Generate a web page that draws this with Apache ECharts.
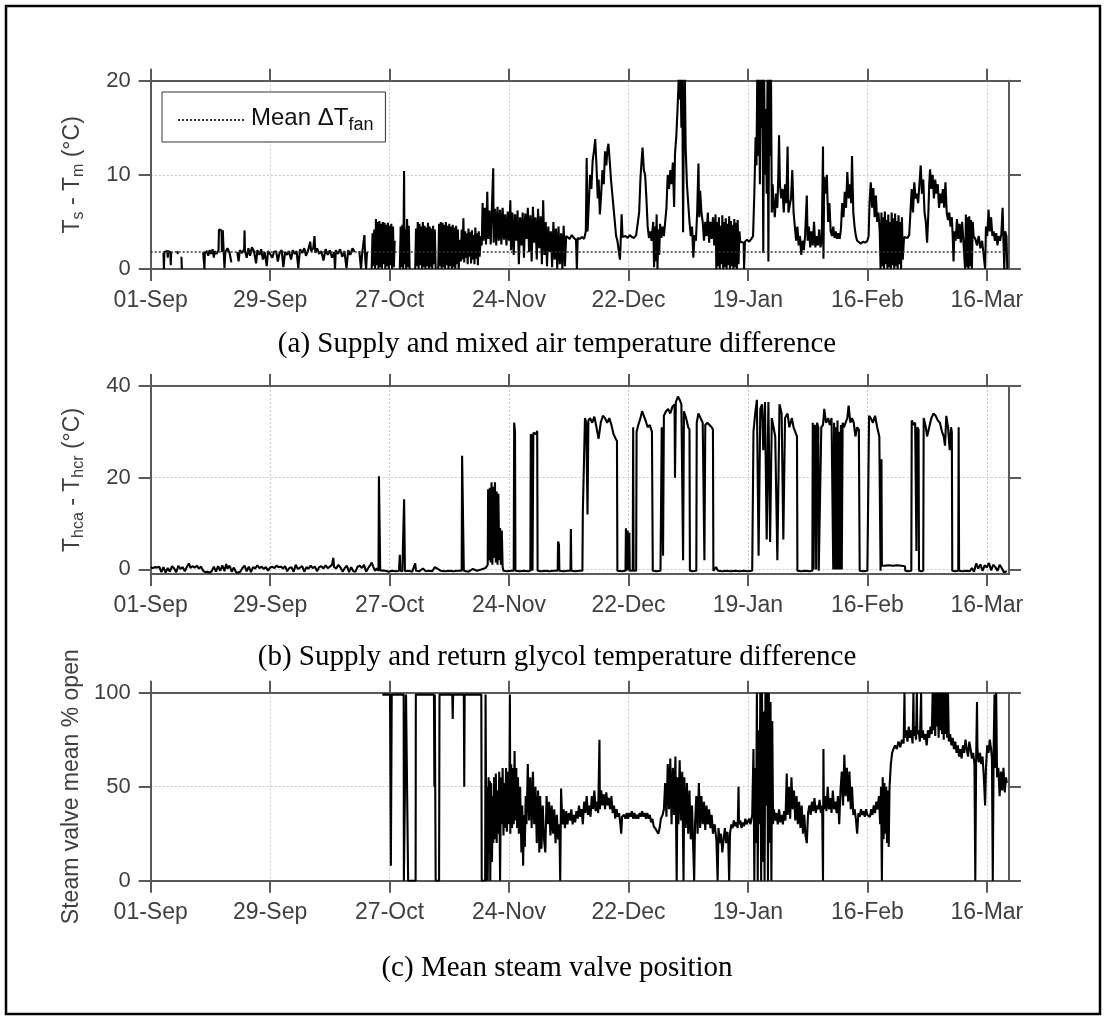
<!DOCTYPE html>
<html><head><meta charset="utf-8">
<script src="https://cdn.jsdelivr.net/npm/echarts@6/dist/echarts.min.js"></script>
<style>html,body{margin:0;padding:0;background:#fff}#c{width:1107px;height:1024px}</style>
</head><body><div id="c"></div>
<script>
// ---------- axis ticks ----------
const tickDays = [0, 28, 56, 84, 112, 140, 168, 196];
const tickLabels = ['01-Sep', '29-Sep', '27-Oct', '24-Nov', '22-Dec', '19-Jan', '16-Feb', '16-Mar'];
const dayMax = 201.2;
const yTicksA = [0, 10, 20];
const yTicksB = [0, 20, 40];
const yTicksC = [0, 50, 100];
const meanDTfan = 1.8;

// ---------- (a) Ts - Tm  [day since 01-Sep, degC] ----------
const tsTm = [
[3.0,1.7],[3.1,0],[3.2,1.8],[3.6,2.0],[3.9,1.9],[4.0,1.2],[4.1,1.9],[4.6,1.8],[4.7,0.4],[4.8,1.7],[5.0,1.8],[5.1,null],
[6.2,1.9],[6.4,1.6],[6.5,null],[7.2,1.3],[7.3,0],[7.4,null],
[12.3,1.8],[12.5,1.6],[12.6,0],[12.7,1.7],[13.2,1.9],[13.5,1.4],[13.8,2.0],[14.2,1.6],[14.5,2.1],[14.8,1.2],[15.0,1.9],[15.4,1.6],[15.9,2.0],[16.0,4.2],[16.6,4.1],[16.7,1.8],[16.9,4.1],[17.1,1.9],[17.3,0.1],[17.5,1.8],[18.0,2.2],[18.5,1.7],[18.9,0.7],[19.2,null],
[20.3,1.8],[20.6,0.8],[20.9,2.0],[21.4,1.7],[21.9,2.1],[22.0,4.1],[22.1,1.9],[22.5,1.2],[22.9,2.2],[23.3,1.4],[23.7,2.3],[24.2,1.9],[24.7,0.6],[25.0,2.0],[25.5,1.5],[25.9,2.1],[26.3,1.0],[26.7,1.8],[27.2,0.3],[27.5,1.9],[28.0,1.6],[28.5,1.2],[28.9,1.8],[29.4,1.9],[29.8,0.8],[30.2,1.7],[30.7,2.0],[31.1,0.2],[31.5,1.8],[32.0,1.5],[32.4,1.9],[32.9,1.0],[33.3,2.0],[33.8,1.6],[34.2,1.9],[34.6,0.1],[35.0,2.1],[35.5,1.7],[36.0,2.2],[36.4,1.4],[36.9,2.0],[37.4,2.9],[37.6,1.9],[38.1,2.2],[38.4,3.5],[38.6,1.7],[39.0,2.2],[39.5,1.6],[40.0,1.9],[40.5,0.9],[41.0,2.1],[41.5,1.5],[42.0,2.0],[42.5,1.2],[43.0,1.8],[43.2,0],[43.4,2.0],[43.9,1.6],[44.4,2.1],[44.9,1.3],[45.4,1.9],[45.9,0.1],[46.3,2.0],[46.8,1.5],[47.3,2.2],[47.8,1.8],[48.2,null],
[48.9,1.9],[49.3,0],[49.6,1.8],[50.1,3.6],[50.3,1.0],[50.5,0],[50.7,1.8],[51.2,null],
[51.8,0],[52.0,3.8],[52.2,0.3],[52.4,4.2],[52.6,0],[52.8,5.3],[53.0,0.4],[53.2,5.0],[53.4,0],[53.6,5.1],[53.8,0.2],[54.0,4.8],[54.2,0],[54.4,5.0],[54.6,0.5],[54.8,4.9],[55.0,0],[55.2,4.7],[55.4,0.3],[55.6,4.9],[55.8,0],[56.0,4.6],[56.2,0.4],[56.4,4.8],[56.6,0],[56.8,4.5],[57.0,0.2],[57.2,3.0],[57.3,null],
[58.4,0],[58.6,4.5],[58.8,0.2],[59.0,4.7],[59.2,0],[59.4,10.4],[59.5,0.5],[59.7,4.2],[59.9,0],[60.1,5.3],[60.3,0.2],[60.5,4.6],[60.7,0],[60.8,null],
[62.0,0],[62.2,4.3],[62.4,0.3],[62.6,5.0],[62.8,0],[63.0,4.8],[63.2,0.4],[63.4,4.5],[63.6,0],[63.8,5.0],[64.0,0.2],[64.2,4.6],[64.4,0],[64.6,4.4],[64.8,0.3],[65.0,4.9],[65.2,0],[65.4,4.5],[65.6,0.2],[65.8,4.3],[66.0,0],[66.2,4.6],[66.4,0.5],[66.6,4.2],[66.8,0],[67.0,null],
[67.4,0],[67.6,4.8],[67.8,0.3],[68.0,5.0],[68.2,0],[68.4,4.9],[68.6,0.2],[68.8,4.7],[69.0,0],[69.2,5.0],[69.4,0.4],[69.6,4.6],[69.8,0],[70.0,4.8],[70.2,0.3],[70.4,4.5],[70.6,0],[70.8,4.7],[71.0,0.2],[71.2,4.4],[71.4,0],[71.6,4.6],[71.8,0.5],[72.0,4.2],[72.2,0],[72.5,3.1],
[72.7,0.8],[72.9,4.2],[73.1,1.0],[73.3,5.4],[73.5,0.7],[73.7,4.0],[73.9,1.2],[74.1,3.8],[74.3,0.5],[74.5,4.3],[74.7,1.3],[74.9,3.9],[75.1,0.6],[75.3,4.1],[75.5,1.0],[75.7,3.6],[75.9,0.5],[76.1,4.4],[76.3,1.1],[76.5,3.8],[76.7,0.4],[76.9,4.0],[77.1,1.3],[77.4,3.5],[77.6,2.5],
[77.8,7.0],[78.0,3.0],[78.3,6.5],[78.6,2.6],[78.9,8.2],[79.1,3.2],[79.4,6.2],[79.7,2.6],[80.0,6.8],[80.3,10.7],[80.4,2.8],[80.7,6.4],[81.0,2.5],[81.3,6.6],[81.6,3.0],[81.9,6.3],[82.2,2.6],[82.5,6.5],[82.8,3.1],[83.1,5.8],[83.4,2.5],[83.7,6.1],[84.0,3.0],
[84.3,7.3],[84.5,2.0],[84.8,6.0],[85.1,1.5],[85.4,5.8],[85.7,3.0],[86.0,6.2],[86.3,0.5],[86.6,5.5],[86.9,2.5],[87.2,6.0],[87.5,1.2],[87.8,5.9],[88.1,3.2],[88.4,6.5],[88.7,1.8],[89.0,5.7],[89.3,0.8],[89.6,6.6],[89.9,2.8],[90.2,5.5],[90.5,1.0],[90.8,6.4],[91.1,2.2],[91.4,5.6],[91.7,0.5],[92.0,7.3],[92.3,1.5],[92.6,5.0],[92.9,0.3],[93.2,4.5],[93.5,1.8],[93.8,4.0],[94.1,0.2],[94.4,5.0],[94.7,1.0],[95.0,4.3],[95.3,0],[95.6,4.5],[95.9,0.5],[96.2,3.8],[96.5,0],[96.8,4.6],[97.1,0.3],[97.4,3.5],
[97.7,3.4],[98.2,3.2],[98.7,3.6],[99.2,3.3],[99.7,3.1],[99.9,0],[100.1,3.3],[100.6,3.2],[101.1,3.4],[101.6,3.2],[102.0,4.0],
[102.2,11.8],[102.4,4.0],[102.7,7.0],[103.0,10.0],[103.3,8.5],[103.6,11.5],[103.9,12.5],[104.2,13.8],[104.5,11.0],[104.8,7.5],[105.0,9.5],[105.3,5.8],[105.6,8.0],[105.9,10.5],[106.2,9.0],[106.5,12.5],[106.8,11.0],[107.1,12.8],[107.3,13.3],[107.6,11.5],[107.9,9.5],[108.2,8.0],[108.5,6.5],[108.8,5.0],[109.1,3.5],[109.4,3.0],[109.7,2.8],[110.0,1.0],[110.2,3.2],[110.4,5.8],[110.6,3.4],[110.8,3.3],
[111.3,3.5],[111.8,3.3],[112.3,3.6],[112.8,3.4],[113.3,3.3],[113.8,3.6],[114.2,3.5],
[114.5,6.0],[114.8,9.5],[115.0,11.0],[115.3,12.9],[115.6,10.5],[115.9,10.0],[116.2,7.5],[116.5,4.5],[116.8,3.3],[117.1,4.0],[117.4,3.0],
[117.8,5.0],[118.0,0.2],[118.2,4.5],[118.4,0.8],[118.6,5.8],[118.8,0],[119.0,4.2],[119.2,1.5],[119.4,4.8],
[119.7,3.3],[120.0,4.5],[120.3,3.5],[120.6,5.0],[120.9,6.5],[121.2,10.0],[121.5,8.5],[121.8,10.5],[122.1,9.0],[122.4,11.3],[122.7,6.6],[122.9,12.2],[123.2,14.0],[123.5,17.0],[123.8,20.5],[124.0,18.0],[124.2,21],[124.4,15.0],[124.6,21],[124.8,3.9],[125.0,17.0],[125.2,21],[125.4,13.0],[125.7,9.0],[126.0,7.0],[126.3,5.0],[126.6,3.5],[126.9,4.5],[127.2,1.2],[127.5,3.6],[127.8,3.0],
[128.1,6.0],[128.4,11.2],[128.6,5.5],[128.8,8.3],[129.1,6.0],[129.4,5.0],[129.7,3.0],[130.0,5.0],[130.3,3.5],[130.6,6.0],[130.9,2.8],[131.2,5.0],[131.5,3.2],[131.8,5.5],[132.1,2.5],
[132.4,5.8],[132.6,0],[132.8,5.0],[133.0,0.3],[133.2,5.5],[133.4,0],[133.6,4.6],[133.8,0.5],[134.0,5.7],[134.2,0],[134.4,5.0],[134.6,0.2],[134.8,5.4],[135.0,0],[135.2,4.8],[135.4,0.4],[135.6,5.6],[135.8,0],[136.0,5.1],[136.2,0.3],[136.4,4.7],[136.6,0],[136.8,5.3],[137.0,0.2],[137.2,4.9],[137.4,0],[137.6,5.2],[137.8,0.5],[138.0,4.0],
[138.2,2.9],[138.6,3.1],[139.0,2.8],[139.1,0],[139.3,2.9],[139.8,3.1],[140.3,2.9],[140.8,3.2],[141.2,3.5],
[141.5,8.0],[141.8,14.0],[142.0,11.0],[142.2,21],[142.4,12.0],[142.6,21],[142.8,9.0],[143.0,21],[143.2,15.0],[143.4,21],[143.6,1.7],[143.8,21],[144.0,10.0],[144.2,17.0],[144.4,8.0],[144.6,21],[144.8,0.8],[145.0,21],[145.2,12.0],[145.4,21],[145.6,6.0],[145.8,9.0],
[146.0,7.2],[146.3,5.5],[146.6,8.0],[146.9,6.5],[147.1,9.5],[147.3,14.2],[147.5,9.0],[147.8,7.5],[148.1,8.5],[148.4,6.0],[148.7,9.0],[149.0,7.0],[149.3,13.0],[149.5,6.0],[149.8,5.8],[150.1,7.5],[150.4,10.5],[150.7,6.0],[151.0,4.5],[151.3,3.0],[151.6,4.5],[151.9,2.5],[152.2,3.5],[152.5,1.5],[152.8,3.0],[153.1,2.0],[153.4,3.5],
[153.8,7.8],[154.0,3.0],[154.3,4.5],[154.6,2.3],[154.9,4.0],[155.2,2.5],[155.5,5.0],[155.8,2.3],[156.1,3.5],[156.4,2.5],[156.7,4.2],[157.0,2.3],[157.3,3.0],
[157.6,13.0],[157.7,1.1],[157.9,9.8],[158.2,8.0],[158.5,10.0],[158.8,5.0],[159.1,7.0],[159.4,4.0],[159.7,3.5],[160.0,4.5],[160.3,3.3],[160.6,4.0],[160.9,3.2],[161.2,3.8],[161.5,3.2],[161.8,4.2],
[162.1,7.0],[162.4,5.5],[162.7,8.2],[163.0,6.5],[163.3,10.3],[163.6,7.5],[163.9,9.0],[164.2,7.0],[164.4,12.0],[164.7,6.0],[165.0,4.5],[165.3,3.5],[165.6,3.0],
[166.0,2.8],[166.5,2.7],[167.0,2.9],[167.5,2.8],[168.0,3.0],[168.3,3.5],
[168.5,7.0],[168.8,9.2],[169.1,6.5],[169.4,8.6],[169.7,5.5],[170.0,7.8],[170.3,5.0],[170.6,6.0],[170.9,4.0],
[171.1,0],[171.3,6.0],[171.5,0.3],[171.7,5.5],[171.9,0],[172.1,6.1],[172.3,0.5],[172.5,5.2],[172.7,0],[172.9,5.8],[173.1,0.2],[173.3,5.0],[173.5,0],[173.7,6.0],[173.9,0.4],[174.1,5.4],[174.3,0],[174.5,5.9],[174.7,0.3],[174.9,5.1],[175.1,0],[175.3,5.7],[175.5,0.5],[175.7,5.0],[175.9,0],[176.1,5.5],[176.3,1.0],
[176.6,3.4],[177.0,3.5],[177.4,3.3],[177.8,3.6],[178.1,3.4],
[178.4,8.5],[178.7,6.0],[179.0,9.2],[179.3,7.5],[179.6,8.0],[179.9,7.0],[180.2,9.0],[180.5,11.0],[180.8,8.0],[181.1,9.5],[181.4,6.0],[181.7,5.0],[182.0,2.8],[182.3,6.0],[182.5,9.0],[182.7,10.6],[183.0,8.5],[183.3,10.0],[183.6,7.5],[183.9,9.5],[184.2,8.0],[184.5,9.0],[184.8,6.5],[185.1,8.0],[185.4,7.0],[185.7,8.5],[186.0,6.5],[186.3,9.2],[186.6,6.0],[186.9,5.2],[187.2,6.0],[187.5,4.5],[187.8,5.5],[188.0,3.5],[188.2,0.8],[188.4,4.0],[188.7,3.0],[189.0,5.3],[189.3,3.2],[189.6,4.8],[189.9,2.8],[190.2,5.0],[190.5,3.0],
[190.9,0],[191.1,5.8],[191.3,0.2],[191.5,5.5],[191.7,0],[191.9,5.6],[192.1,0.3],[192.3,5.2],[192.5,0],[192.7,5.0],[192.9,3.5],
[193.3,3.2],[193.7,2.5],[194.1,3.5],[194.5,2.2],[194.9,3.0],[195.3,2.8],[195.6,0],[195.8,4.5],[196.1,3.5],[196.4,6.3],[196.7,4.0],[197.0,5.5],[197.3,3.5],[197.6,4.0],[197.9,3.0],[198.2,3.8],[198.5,2.5],[198.8,3.5],[199.1,3.0],[199.4,3.7],[199.7,6.5],[199.9,3.0],[200.1,0],[200.3,4.0],[200.6,3.5],[200.8,0]
];

// ---------- (b) Thca - Thcr [day, degC] ----------
const thcaThcr = [
[0,0.4],[0.5,0.3],[1.0,0.5],[1.5,0.4],[2.0,0.6],[2.5,-0.6],[3.0,0.5],[3.5,-0.7],[4.0,0.3],[4.5,-0.5],[5.0,0.7],[5.5,0.2],[6.0,-0.6],[6.5,0.8],[7.0,0.1],[7.5,0.5],[8.0,-0.4],[8.5,0.6],[9.0,1.3],[9.3,0.3],[9.8,0.7],[10.3,0.4],[10.8,0.8],[11.3,0.2],[11.8,0.6],[12.3,-0.3],[12.8,-0.6],[13.3,-0.5],[13.8,-0.7],[14.3,-0.4],[14.8,0.6],[15.3,-0.5],[15.8,0.7],[16.3,-0.3],[16.8,0.9],[17.3,-0.4],[17.7,1.2],[18.0,0.2],[18.5,0.8],[19.0,-0.5],[19.5,0.4],[20.0,-0.6],[20.5,-0.7],[21.0,-0.5],[21.5,0.3],[22.0,0.8],[22.5,-0.4],[23.0,0.6],[23.5,-0.6],[24.0,0.5],[24.5,0.2],[25.0,0.9],[25.5,0.3],[26.0,0.6],[26.5,0.1],[27.0,0.5],[27.5,-0.3],[28.0,0.4],[28.5,0.6],[29.0,0.3],[29.5,0.8],[30.0,0.5],[30.5,0.6],[31.0,0.2],[31.5,0.7],[32.0,-0.4],[32.5,0.3],[33.0,0.5],[33.5,-0.5],[34.0,1.0],[34.5,0.1],[35.0,0.4],[35.5,0.7],[36.0,-0.5],[36.5,0.5],[37.0,0.2],[37.5,0.8],[38.0,0.3],[38.5,0.6],[39.0,-0.4],[39.5,0.5],[40.0,0.7],[40.5,0.2],[41.0,0.9],[41.5,0.3],[42.0,0.6],[42.5,1.0],[42.8,2.5],[43.0,0.5],[43.5,0.2],[44.0,1.0],[44.5,0.4],[45.0,-0.5],[45.5,0.3],[46.0,0.8],[46.5,-0.6],[47.0,0.5],[47.5,-0.4],[48.0,-0.5],[48.5,0.6],[49.0,0.8],[49.5,0.3],[50.0,1.0],[50.5,-0.5],[51.0,0.3],[51.5,1.0],[51.8,1.5],[52.2,0.5],[52.6,-0.3],[53.0,0.2],[53.4,-0.3],[53.5,20.3],[53.7,20.0],[53.8,-0.2],
[54.2,-0.4],[55.0,-0.3],[55.8,-0.5],[56.6,-0.3],[57.4,-0.4],[58.2,-0.3],[58.4,3.2],[58.5,-0.3],[59.0,-0.4],[59.4,15.3],[59.55,15.0],[59.6,-0.4],[60.5,-0.3],[61.3,-0.5],[62.0,1.3],[62.2,-0.3],[63.0,-0.4],[63.8,0.2],[64.5,-0.4],[65.3,-0.3],[66.0,-0.4],[66.6,0.5],[67.2,0.2],[68.0,-0.3],[69.0,-0.4],[70.0,-0.3],[71.0,-0.4],[72.0,-0.3],[72.9,-0.3],[73.0,24.8],[73.3,24.5],[73.4,-0.3],[74.5,-0.5],[75.5,0.1],[76.5,-0.3],[77.5,0],[78.5,0.3],
[79.0,1.0],[79.1,17.5],[79.3,2.0],[79.5,17.8],[79.7,1.5],[79.9,19.0],[80.1,1.0],[80.3,18.0],[80.5,2.5],[80.7,19.0],[80.9,1.5],[81.1,17.0],[81.3,1.0],[81.5,16.5],[81.7,2.0],[81.9,9.0],[82.1,1.0],[82.3,8.5],[82.5,0.5],[82.7,-0.3],
[83.5,-0.4],[84.5,-0.3],[85.1,-0.3],[85.2,32.0],[85.4,30.0],[85.5,-0.3],[86.5,-0.4],[87.5,-0.3],[88.5,-0.4],[89.0,-0.3],[89.1,29.5],[89.3,29.0],[89.5,-0.3],[89.7,29.8],[90.0,30.0],[90.3,29.5],[90.6,30.2],[90.7,-0.3],[91.5,-0.4],[92.5,-0.3],[93.5,-0.4],[94.5,-0.3],[95.4,-0.3],[95.5,6.1],[95.7,5.5],[95.8,-0.3],[96.8,-0.4],[97.8,-0.3],[98.4,-0.3],[98.5,8.8],[98.6,-0.3],[99.5,-0.4],[100.5,-0.3],[101.2,-0.3],
[101.3,12.5],[101.6,12.5],[101.8,33.0],[102.1,32.0],[102.4,12.0],[102.6,32.5],[103.0,33.0],[103.5,32.0],[104.0,33.3],[104.5,31.0],[105.0,28.5],[105.5,32.0],[106.0,33.5],[106.5,33.0],[107.0,32.0],[107.5,33.0],[108.0,31.5],[108.5,29.5],[109.0,28.5],[109.3,28.0],[109.4,-0.3],
[110.5,-0.4],[111.3,-0.3],[111.4,9.0],[111.5,-0.3],[111.8,8.5],[111.9,-0.2],[112.2,8.0],[112.3,-0.3],[113.0,-0.3],[113.1,31.0],[113.2,-0.3],[113.8,-0.3],[113.9,30.0],[114.3,31.5],[114.8,33.0],[115.2,34.5],[115.6,33.5],[116.0,32.5],[116.5,31.0],[117.0,31.5],[117.5,30.0],[117.7,-0.3],
[118.5,-0.4],[119.5,-0.3],[119.7,-0.3],[119.8,31.0],[120.1,3.0],[120.3,33.5],[120.8,34.5],[121.3,35.0],[121.8,34.0],[122.3,35.5],[122.8,36.0],[122.9,20.0],[123.1,36.5],[123.6,37.7],[124.0,37.0],[124.4,36.0],[124.8,2.0],[125.0,34.5],[125.5,33.0],[126.0,31.0],[126.3,30.5],[126.4,-0.3],
[127.0,-0.4],[127.9,-0.3],[128.0,32.0],[128.4,34.0],[128.9,33.0],[129.4,32.0],[129.8,2.0],[130.0,31.5],[130.5,32.0],[131.0,31.5],[131.5,31.0],[131.8,30.5],[131.9,-0.3],
[132.5,0.5],[133.0,-0.3],[134.0,-0.4],[135.0,-0.3],[136.0,-0.4],[137.0,-0.3],[138.0,-0.4],[139.0,-0.3],[140.0,-0.4],[141.0,-0.3],
[141.3,30.0],[141.7,34.0],[142.1,37.0],[142.5,3.0],[142.9,35.0],[143.3,36.0],[143.6,26.0],[144.0,36.5],[144.4,6.5],[144.8,36.5],[145.2,6.0],[145.6,33.0],[146.0,31.0],[146.4,29.0],[146.9,2.0],[147.4,36.0],[147.9,34.0],[148.3,6.5],[148.7,33.0],[149.3,34.0],[149.7,31.0],[150.3,33.0],[150.7,31.0],[151.1,31.0],[151.5,29.0],[151.6,-0.3],
[152.5,-0.4],[153.5,-0.3],[154.5,-0.4],[155.1,-0.3],[155.2,32.0],[155.4,0],[155.6,31.5],[155.8,31.0],[156.0,0],[156.2,32.0],[156.5,31.0],[156.6,-0.3],[157.0,-0.3],[157.2,31.0],[157.6,31.5],[157.9,35.0],[158.3,32.0],[158.8,33.0],[159.2,31.5],[159.6,33.0],[160.0,0],[160.2,32.0],[160.4,0],[160.6,31.0],[160.8,0],[161.0,32.5],[161.2,0],[161.4,30.0],[161.6,0],[161.8,31.5],[162.0,0],[162.2,32.0],[162.5,31.0],[162.9,32.0],[163.3,33.0],[163.6,35.7],[164.0,32.0],[164.4,33.0],[164.8,32.0],[165.2,29.0],[165.6,31.0],[166.0,30.5],[166.2,-0.3],
[167.0,-0.4],[168.0,-0.3],[168.3,-0.3],[168.4,33.5],[168.8,33.0],[169.3,32.0],[169.8,33.5],[170.3,31.0],[170.8,29.0],[171.0,29.0],[171.1,-0.3],[171.3,24.0],[171.4,0.8],[172.0,0.8],[173.0,0.9],[174.0,0.8],[175.0,0.9],[176.0,0.8],[176.8,0.7],[176.9,-0.3],
[177.5,-0.4],[178.3,-0.3],[178.4,32.5],[178.8,31.5],[179.2,32.0],[179.5,4.0],[179.7,31.0],[180.0,30.5],[180.1,-0.3],[180.6,-0.4],[181.1,-0.3],[181.2,33.0],[181.7,31.0],[182.0,29.0],[182.5,31.0],[183.0,33.0],[183.5,34.0],[184.0,33.5],[184.5,32.5],[185.0,32.0],[185.5,30.0],[185.9,29.0],[186.2,27.0],[186.5,33.5],[186.9,31.0],[187.3,26.0],[187.6,31.0],[187.8,30.0],[187.9,-0.3],
[188.6,-0.4],[189.3,-0.3],[189.4,31.0],[189.5,-0.3],[190.3,-0.4],[191.2,-0.3],[192.0,-0.4],[192.5,0.3],[193.0,-0.5],[193.5,1.3],[194.0,0.2],[194.5,1.1],[195.0,-0.3],[195.5,0.9],[196.0,0.4],[196.5,1.4],[197.0,-0.2],[197.5,1.0],[198.0,0.5],[198.5,-0.3],[199.0,1.0],[199.5,0.3],[200.0,-0.6],[200.7,-0.4]
];

// ---------- (c) Steam valve mean % open [day, %] ----------
const steamValve = [
[54.3,99],[54.6,99],[55.5,99],[56.1,99],[56.3,8],[56.5,99],[57.5,99],[58.5,99],[59.3,99],[59.35,0],[59.8,0],[59.85,99],[60.3,99],[60.35,0],[61.5,0],[62.1,0],[62.15,99],[63.5,99],[65.0,99],[66.4,99],[66.5,50],[66.6,99],[66.8,0],[67.6,0],[67.7,99],[69.0,99],[70.7,99],[70.8,86],[70.9,99],[72.5,99],[73.4,99],[73.5,50],[73.6,99],[75.0,99],[76.5,99],[77.5,99],[77.6,0],[78.4,0],[78.5,99],[78.7,0],
[78.9,50],[79.0,0],[79.2,55],[79.3,15],[79.5,53],[79.6,0],[79.8,52],[80.0,10],[80.2,45],[80.3,20],
[80.5,55],[80.7,22],[80.9,57],[81.1,20],[81.3,48],[81.5,25],[81.7,58],[81.9,0],[82.1,55],[82.3,30],[82.5,60],[82.7,24],[82.9,52],[83.1,28],[83.3,60],[83.5,26],[83.7,58],[83.9,30],[84.1,55],[84.2,99],[84.3,25],[84.5,62],[84.7,28],[84.9,60],[85.1,30],[85.3,69],[85.5,32],[85.7,60],[85.9,28],[86.1,55],[86.3,25],[86.6,50],[86.9,15],[87.1,40],[87.3,8],[87.5,35],[87.7,18],[87.9,45],[88.1,30],[88.4,62],[88.7,32],[89.0,55],[89.3,28],[89.6,58],[89.9,30],[90.2,50],[90.5,20],[90.8,48],[91.1,15],[91.3,45],[91.6,17],[91.9,40],[92.2,22],[92.5,15],[92.8,45],[93.1,30],[93.4,42],[93.7,24],[94.0,40],[94.3,25],[94.6,38],[94.9,20],[95.2,35],[95.5,22],[95.8,30],
[96.0,0],[96.2,49],[96.5,30],[96.8,38],[97.1,28],[97.4,37],[97.7,30],[98.0,36],[98.3,32],[98.6,38],[98.9,30],[99.2,35],[99.5,31],[99.8,37],[100.1,33],[100.4,40],[100.7,34],[101.0,38],[101.3,30],[101.6,42],[101.9,36],[102.2,45],[102.5,35],[102.8,40],[103.1,34],[103.4,45],[103.7,38],[104.0,48],[104.3,37],[104.6,42],[104.9,36],[105.2,75],[105.3,38],[105.6,48],[105.9,40],[106.2,46],[106.5,38],[106.8,47],[107.1,40],[107.4,44],[107.7,38],[108.0,45],[108.3,36],[108.6,40],[108.9,33],[109.2,38],[109.5,34],[109.8,36],[110.1,30],[110.3,25],[110.5,34],
[111.0,35],[111.3,33],[111.6,36],[111.9,33],[112.2,36],[112.5,34],[112.8,37],[113.1,33],[113.4,36],[113.7,33],[114.0,35],[114.3,33],[114.6,36],[114.9,34],[115.2,37],[115.5,34],[115.8,36],[116.1,33],[116.4,36],[116.7,33],[117.0,35],[117.3,31],[117.6,33],[117.9,29],[118.2,30],[118.5,27],[118.8,28],[119.0,25],[119.3,28],[119.6,33],[120.0,35],
[120.3,38],[120.6,52],[120.9,34],[121.2,62],[121.5,38],[121.8,65],[122.1,30],[122.4,60],[122.7,35],[123.0,66],[123.3,0],[123.5,55],[123.7,30],[124.0,64],[124.3,32],[124.6,58],[124.9,0],[125.1,55],[125.4,28],[125.7,52],[126.0,25],[126.3,48],[126.6,22],[126.9,40],[127.2,15],[127.4,0],[127.6,30],[127.9,45],[128.2,25],[128.5,52],[128.8,28],[129.1,45],[129.4,30],[129.7,42],[130.0,27],[130.3,40],[130.6,30],[130.9,38],[131.2,28],[131.5,35],[131.8,25],
[132.2,30],[132.6,22],[132.9,0],[133.1,28],[133.4,20],[133.7,25],[134.0,15],[134.3,22],[134.6,28],[134.9,20],[135.2,26],[135.4,20],[135.6,0],[135.8,25],[136.1,30],[136.4,28],[136.7,32],[137.0,29],[137.3,31],[137.6,28],[137.8,50],[137.9,30],[138.2,32],[138.5,28],[138.8,31],[139.1,29],[139.4,33],[139.7,30],[140.0,31],[140.3,33],[140.6,30],[141.0,35],
[141.3,70],[141.5,0],[141.7,60],[141.9,20],[142.1,100],[142.3,0],[142.5,80],[142.7,30],[142.9,100],[143.1,0],[143.3,100],[143.5,10],[143.7,90],[143.9,0],[144.1,100],[144.3,40],[144.5,100],[144.7,0],[144.9,100],[145.1,20],[145.3,95],[145.5,0],[145.7,85],[145.9,30],
[146.1,38],[146.4,32],[146.7,36],[147.0,30],[147.3,38],[147.6,31],[147.9,35],[148.2,30],[148.5,37],[148.8,32],[149.1,57],[149.3,35],[149.6,50],[149.9,33],[150.2,55],[150.5,38],[150.8,48],[151.1,32],[151.4,45],[151.7,30],[152.0,42],[152.3,28],[152.6,40],[152.9,25],[153.2,35],[153.5,24],[153.8,20],[154.1,36],[154.4,40],[154.7,35],[155.0,42],[155.3,37],[155.6,44],[155.9,36],[156.2,40],[156.5,38],[156.8,43],[157.1,36],[157.4,40],[157.6,0],[157.7,70],[157.8,38],[158.1,45],[158.4,37],[158.7,50],[159.0,38],[159.3,44],[159.6,36],[159.9,48],[160.2,38],[160.5,42],[160.8,36],[161.1,45],[161.4,30],
[161.7,48],[162.0,58],[162.3,40],[162.6,67],[162.9,45],[163.2,60],[163.5,42],[163.8,58],[164.1,38],[164.4,50],[164.7,35],
[165.0,38],[165.3,33],[165.6,25],[165.9,36],[166.2,34],[166.5,38],[166.8,35],[167.1,37],[167.4,34],[167.7,38],[168.0,35],[168.3,36],[168.6,34],[168.9,38],[169.2,35],[169.5,40],[169.8,36],[170.1,42],[170.4,38],[170.7,45],
[171.0,30],[171.2,50],[171.4,0],[171.6,55],[171.8,22],[172.0,52],[172.2,25],[172.4,50],[172.6,20],[172.8,48],[173.0,18],[173.2,50],
[173.5,62],[173.8,68],[174.1,70],[174.5,72],[174.9,70],[175.3,74],[175.7,71],[176.1,75],[176.5,73],
[176.7,100],[176.8,76],[177.1,80],[177.4,74],[177.7,82],[178.0,76],[178.3,80],[178.6,73],[178.8,100],[178.9,77],[179.2,82],[179.4,75],[179.6,100],[179.7,78],[180.0,80],[180.3,74],[180.6,100],[180.7,76],[181.0,80],[181.3,75],[181.6,78],[181.9,72],[182.2,80],[182.5,76],[182.8,82],[183.1,78],[183.3,100],[183.5,80],[183.7,100],[183.9,77],[184.1,100],[184.3,82],[184.5,100],[184.7,76],[184.9,100],[185.1,80],[185.3,100],[185.5,78],[185.7,100],[185.9,75],[186.1,100],[186.3,78],[186.5,100],[186.7,76],[186.9,100],[187.1,74],[187.4,78],[187.7,72],[188.0,76],
[188.3,70],[188.6,74],[188.9,68],[189.2,72],[189.5,66],[189.8,70],[190.1,65],[190.4,72],[190.7,68],[191.0,75],[191.3,70],[191.6,66],[191.9,74],[192.2,70],[192.5,65],[192.8,68],[193.1,62],[193.3,0],[193.5,65],[193.7,95],[193.8,70],[194.1,63],[194.4,68],[194.7,62],[195.0,66],[195.3,55],[195.6,40],[195.8,60],[196.1,72],[196.4,68],[196.7,75],[197.0,70],[197.2,65],[197.4,0],[197.6,70],[197.8,99],[198.0,60],[198.2,100],[198.4,55],[198.7,60],[199.0,45],[199.3,58],[199.6,48],[199.9,60],[200.2,47],[200.5,55],[200.7,52]
];

// ---------- styling ----------
const AX = '#5a5a5a';
const TXT = '#3f3f3f';
const SANS = '"Liberation Sans", Arial, sans-serif';
const SERIF = '"Liberation Serif", "Times New Roman", serif';
const GRID_LEFT = 150.7, GRID_W = 858.3;
const panels = [
  {top: 80.7, height: 188.3, yMin: 0, yMax: 20, ticks: yTicksA, data: tsTm,
   name: '{a|T}{s|s}{a| - T}{s|m}{a| (°C)}'},
  {top: 386, height: 188, yMin: -1, yMax: 40, ticks: yTicksB, data: thcaThcr,
   name: '{a|T}{s|hca}{a| - T}{s|hcr}{a| (°C)}'},
  {top: 692.7, height: 188, yMin: 0, yMax: 100, ticks: yTicksC, data: steamValve,
   name: '{a|Steam valve mean % open}'}
];
const captions = [
  {text: '(a) Supply and mixed air temperature difference', y: 344},
  {text: '(b) Supply and return glycol temperature difference', y: 657},
  {text: '(c) Mean steam valve position', y: 968}
];

const grid = [], xAxis = [], yAxis = [], series = [];
const lineW = {color: AX, width: 2};
const splitStyle = {show: true, lineStyle: {color: '#c9c9c9', width: 1, type: [2, 2]}};
const nameRich = {
  a: {fontSize: 23, fontFamily: SANS, color: TXT, lineHeight: 26, verticalAlign: 'top'},
  s: {fontSize: 16, fontFamily: SANS, color: TXT, lineHeight: 16, padding: [14, 0, 0, 0], verticalAlign: 'bottom'}
};
panels.forEach((p, i) => {
  grid.push({left: GRID_LEFT, top: p.top, width: GRID_W, height: p.height, outerBoundsMode: 'none', containLabel: false});
  const interval = p.ticks[1] - p.ticks[0];
  xAxis.push({gridIndex: i, type: 'value', position: 'bottom', min: 0, max: dayMax, interval: 28,
    axisLine: {show: true, onZero: false, lineStyle: lineW},
    axisTick: {show: true, inside: false, length: 12, customValues: tickDays, lineStyle: lineW},
    axisLabel: {show: true, customValues: tickDays, margin: 20, fontSize: 23, fontFamily: SANS, color: TXT,
      formatter: v => tickLabels[Math.round(v / 28)] || ''},
    splitLine: splitStyle});
  xAxis.push({gridIndex: i, type: 'value', position: 'top', min: 0, max: dayMax, interval: 28,
    axisLine: {show: true, onZero: false, lineStyle: lineW},
    axisTick: {show: true, inside: false, length: 12, customValues: tickDays, lineStyle: lineW},
    axisLabel: {show: false}, splitLine: {show: false}});
  yAxis.push({gridIndex: i, type: 'value', position: 'left', min: p.yMin, max: p.yMax,
    interval: p.yMin === 0 ? interval : undefined,
    axisLine: {show: true, onZero: false, lineStyle: lineW},
    axisTick: {show: true, inside: false, length: 12, customValues: p.ticks, lineStyle: lineW},
    axisLabel: {show: true, customValues: p.ticks, margin: 20, fontSize: 22, fontFamily: SANS, color: TXT},
    splitLine: splitStyle,
    name: p.name, nameLocation: 'middle', nameGap: 64, nameRotate: 90,
    nameTextStyle: {rich: nameRich}});
  yAxis.push({gridIndex: i, type: 'value', position: 'right', min: p.yMin, max: p.yMax,
    interval: p.yMin === 0 ? interval : undefined,
    axisLine: {show: true, onZero: false, lineStyle: lineW},
    axisTick: {show: true, inside: false, length: 12, customValues: p.ticks, lineStyle: lineW},
    axisLabel: {show: false}, splitLine: {show: false}});
  series.push({type: 'line', xAxisIndex: 2 * i, yAxisIndex: 2 * i, data: p.data,
    symbol: 'none', showSymbol: false, clip: true, connectNulls: false, animation: false,
    lineStyle: {color: '#000', width: 2.1}, z: 3, silent: true});
});
series.push({name: 'Mean ΔTfan', type: 'line', xAxisIndex: 0, yAxisIndex: 0,
  data: [[0, meanDTfan], [dayMax, meanDTfan]], symbol: 'none', animation: false, silent: true,
  itemStyle: {color: '#333'},
  lineStyle: {color: '#333', width: 1.5, type: [2, 2]}, z: 4});

const graphic = [
  {type: 'rect', silent: true, z: -10, shape: {x: 6, y: 6, width: 1094, height: 1008},
   style: {fill: 'none', stroke: '#000', lineWidth: 2.5}}
].concat(captions.map(c => ({type: 'text', silent: true, x: 557, y: c.y,
  style: {text: c.text, font: '29px ' + SERIF, fill: '#000', align: 'center', verticalAlign: 'middle',
          textAlign: 'center', textVerticalAlign: 'middle'}})));

const chart = echarts.init(document.getElementById('c'), null, {renderer: 'canvas'});
chart.setOption({
  animation: false,
  backgroundColor: '#fff',
  grid, xAxis, yAxis, series, graphic,
  legend: {show: true, data: ['Mean ΔTfan'], left: 162, top: 92, orient: 'horizontal',
    padding: [8, 12, 8, 15], itemWidth: 68, itemHeight: 14, selectedMode: false,
    itemStyle: {opacity: 0},
    borderColor: '#333', borderWidth: 1, backgroundColor: '#fff',
    formatter: () => '{a|Mean ΔT}{s|fan}',
    textStyle: {rich: {
      a: {fontSize: 24, fontFamily: SANS, color: '#111', lineHeight: 28, verticalAlign: 'top'},
      s: {fontSize: 18, fontFamily: SANS, color: '#111', lineHeight: 18, padding: [16, 0, 0, 0], verticalAlign: 'bottom'}
    }}},
  tooltip: {show: false}
});
</script></body></html>
